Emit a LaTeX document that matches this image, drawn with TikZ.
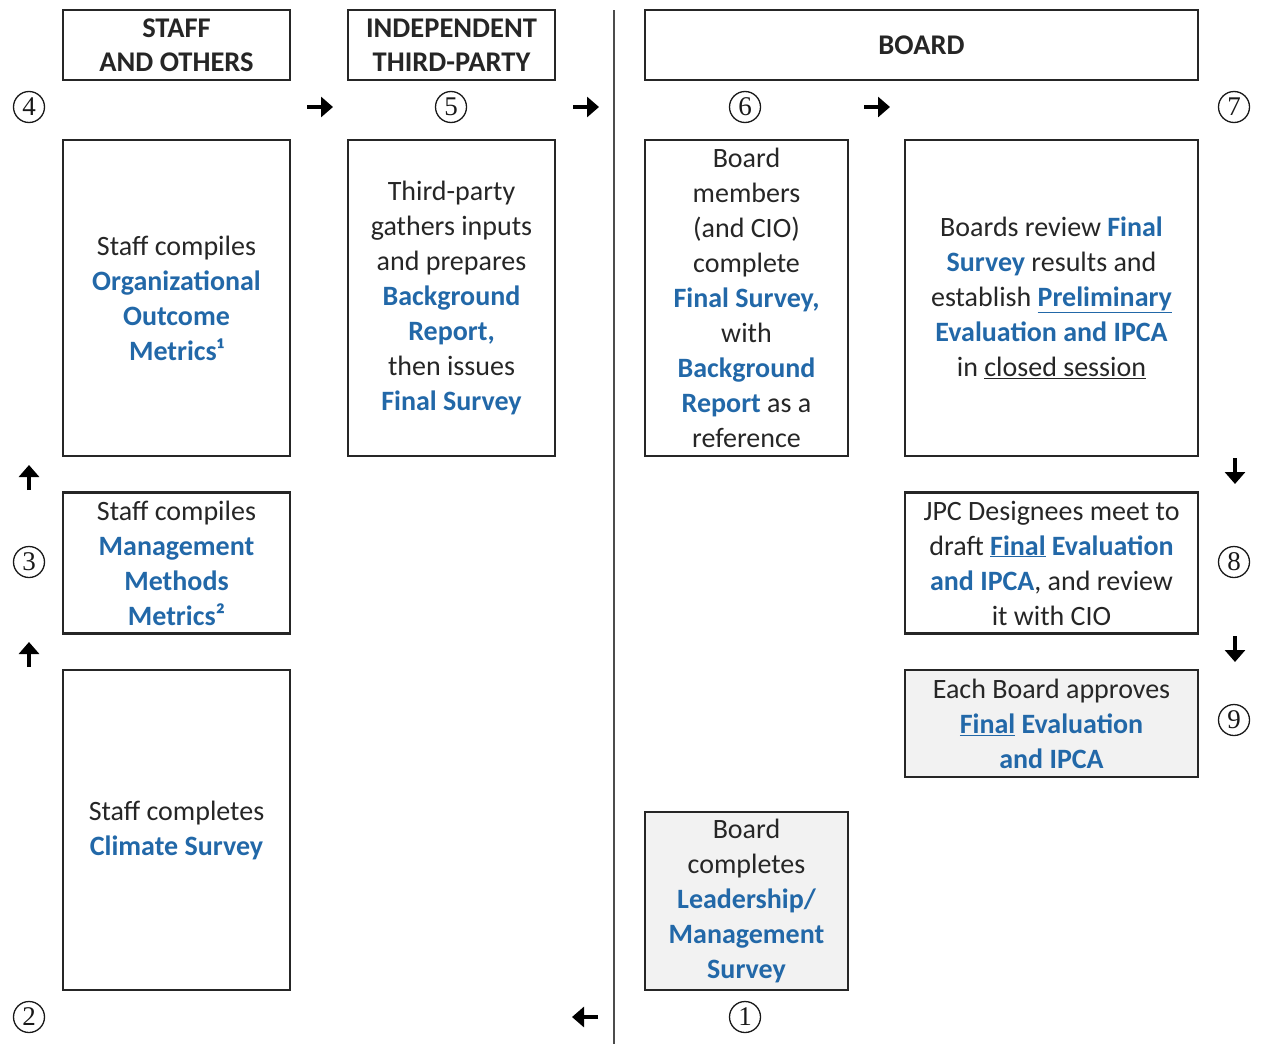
\documentclass[tikz,border=0pt]{standalone}
\usepackage{fontspec}
\setmainfont{Carlito}
\newfontfamily\numfont{Liberation Serif}
\usetikzlibrary{arrows.meta}
\definecolor{bl}{RGB}{34,104,168}
\definecolor{tx}{RGB}{38,38,38}
\definecolor{gfill}{RGB}{242,242,242}
\newcommand{\hl}[1]{\textcolor{bl}{\bfseries #1}}
\begin{document}
\begin{tikzpicture}[x=1pt,y=-1pt,
 box/.style={draw=black!85, line width=2.2pt, inner sep=0pt, align=center, text=tx, font=\fontsize{28}{35}\selectfont},
 hdr/.style={box, font=\fontsize{28.5}{34}\selectfont\bfseries},
 num/.style={circle, draw=black!90, line width=1.3pt, minimum size=31pt, inner sep=0pt, font=\numfont\fontsize{27}{27}\selectfont, text=black!90},
 harrow/.style={line width=4.5pt, -{Triangle[length=12pt,width=20pt]}},
 gbox/.style={box, fill=gfill}
]
\useasboundingbox (0,0) rectangle (1261,1044);
% divider
\coordinate (vt) at (614,10);
\coordinate (vb) at (614,1044);
\draw[line width=1.5pt, black!70] (vt) -- (vb);
% headers
\node[hdr, minimum width=227pt, minimum height=70pt] (hA) at (176.5,45) {STAFF\\AND OTHERS};
\node[hdr, minimum width=207pt, minimum height=70pt] (hB) at (451.5,45) {INDEPENDENT\\THIRD-PARTY};
\node[hdr, minimum width=553pt, minimum height=70pt] (hC) at (921.5,45) {BOARD};
% boxes
\node[box, minimum width=227pt, minimum height=316pt] (A) at (176.5,298)
 {Staff compiles\\\hl{Organizational}\\\hl{Outcome}\\\hl{Metrics¹}};
\node[box, minimum width=207pt, minimum height=316pt] (B) at (451.5,298)
 {Third-party\\gathers inputs\\and prepares\\\hl{Background}\\\hl{Report,}\\then issues\\\hl{Final Survey}};
\node[box, minimum width=203pt, minimum height=316pt] (C) at (746.5,298)
 {Board\\members\\(and CIO)\\complete\\\hl{Final Survey,}\\with\\\hl{Background}\\\hl{Report} as a\\reference};
\node[box, minimum width=293pt, minimum height=316pt] (D) at (1051.5,298)
 {Boards review \hl{Final}\\\hl{Survey} results and\\establish \hl{\underline{Preliminary}}\\\hl{Evaluation and IPCA}\\in \underline{closed session}};
\node[box, minimum width=227pt, minimum height=141pt] (E) at (176.5,563)
 {Staff compiles\\\hl{Management}\\\hl{Methods}\\\hl{Metrics²}};
\node[box, minimum width=293pt, minimum height=141pt] (F) at (1051.5,563)
 {JPC Designees meet to\\draft \hl{\underline{Final} Evaluation}\\\hl{and IPCA}, and review\\it with CIO};
\node[gbox, minimum width=293pt, minimum height=107pt] (G) at (1051.5,723.5)
 {Each Board approves\\\hl{\underline{Final} Evaluation}\\\hl{and IPCA}};
\node[box, minimum width=227pt, minimum height=320pt] (H) at (176.5,830)
 {Staff completes\\\hl{Climate Survey}};
\node[gbox, minimum width=203pt, minimum height=178pt] (I) at (746.5,901)
 {Board\\completes\\\hl{Leadership/}\\\hl{Management}\\\hl{Survey}};
% step numbers
\node[num] (n1) at (745,1017) {1};
\node[num] (n2) at (29,1017) {2};
\node[num] (n3) at (29,562) {3};
\node[num] (n4) at (29,107) {4};
\node[num] (n5) at (451,107) {5};
\node[num] (n6) at (745,107) {6};
\node[num] (n7) at (1234,107) {7};
\node[num] (n8) at (1234,562) {8};
\node[num] (n9) at (1234,720) {9};
% arrows
\coordinate (a1s) at (307,107); \coordinate (a1e) at (333,107);
\coordinate (a2s) at (573,107); \coordinate (a2e) at (599,107);
\coordinate (a3s) at (864,107); \coordinate (a3e) at (890,107);
\coordinate (u1s) at (29,490); \coordinate (u1e) at (29,465);
\coordinate (u2s) at (29,667); \coordinate (u2e) at (29,642);
\coordinate (d1s) at (1235,458); \coordinate (d1e) at (1235,484);
\coordinate (d2s) at (1235,636); \coordinate (d2e) at (1235,662);
\coordinate (ls) at (598,1017); \coordinate (le) at (572,1017);
\foreach \s/\e in {a1s/a1e,a2s/a2e,a3s/a3e,u1s/u1e,u2s/u2e,d1s/d1e,d2s/d2e,ls/le}
  \draw[harrow] (\s) -- (\e);
\end{tikzpicture}
\end{document}
